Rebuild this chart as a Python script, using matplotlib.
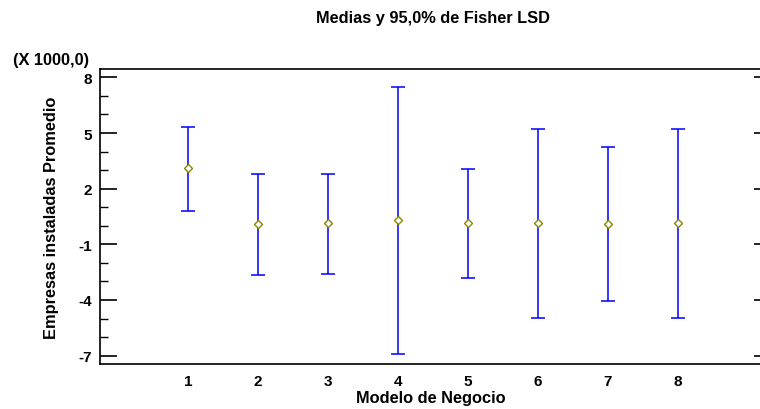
import matplotlib
matplotlib.use('Agg')
import matplotlib.pyplot as plt
from matplotlib.ticker import MultipleLocator

plt.rcParams['font.family'] = ['Liberation Sans', 'DejaVu Sans']
plt.rcParams['font.weight'] = 'bold'
plt.rcParams['axes.unicode_minus'] = False

# Means and Fisher LSD intervals (in thousands)
modelos = [1, 2, 3, 4, 5, 6, 7, 8]
medias = [3.09, 0.08, 0.13, 0.29, 0.13, 0.13, 0.08, 0.13]
limite_sup = [5.34, 2.79, 2.79, 7.50, 3.08, 5.21, 4.23, 5.21]
limite_inf = [0.81, -2.66, -2.60, -6.92, -2.82, -4.95, -4.06, -4.95]
yticks = [8, 5, 2, -1, -4, -7]

err_low = [m - lo for m, lo in zip(medias, limite_inf)]
err_high = [hi - m for m, hi in zip(medias, limite_sup)]

fig = plt.figure(figsize=(7.6, 4.1), dpi=100)
ax = fig.add_axes([100 / 760, 45 / 410, 662 / 760, 295 / 410])

ax.errorbar(modelos, medias, yerr=[err_low, err_high], fmt='none',
            ecolor='#0000ff', elinewidth=1.1, capsize=5, capthick=1.1)
ax.plot(modelos, medias, linestyle='none', marker='D', markersize=4,
        markerfacecolor='white', markeredgecolor='#8a8a00', markeredgewidth=1)

ax.set_xlim(-0.257, 9.2)
ax.set_ylim(-7.45, 8.45)
ax.set_xticks(modelos)
ax.set_yticks(yticks)
ax.yaxis.set_minor_locator(MultipleLocator(1))
ax.tick_params(axis='x', length=0, labelsize=11, pad=7)
ax.tick_params(axis='y', which='major', direction='in', length=12, width=1.2,
               labelsize=11, pad=6)
ax.tick_params(axis='y', which='minor', direction='in', length=6, width=1)
for s in ax.spines.values():
    s.set_linewidth(1.2)
ax.spines['right'].set_visible(False)

# short tick marks on the right edge
sec = ax.secondary_yaxis('right')
sec.set_yticks(yticks)
sec.tick_params(direction='in', length=6, width=1.2, labelright=False)
sec.spines['right'].set_visible(False)

fig.text(433 / 760, 1 - 19 / 410, 'Medias y 95,0% de Fisher LSD', fontsize=11.8,
         fontweight='bold', ha='center', va='center')
ax.set_xlabel('Modelo de Negocio', fontsize=11.8, fontweight='bold')
ax.xaxis.set_label_coords(0.5, -0.088)
ax.set_ylabel('Empresas instaladas Promedio', fontsize=11.8, fontweight='bold', va='center')
ax.yaxis.set_label_coords(-0.074, 0.5)
fig.text(13 / 760, 1 - 61 / 410, '(X 1000,0)', fontsize=11.8, fontweight='bold',
         va='center', ha='left')

fig.savefig('out.png', dpi=100)
